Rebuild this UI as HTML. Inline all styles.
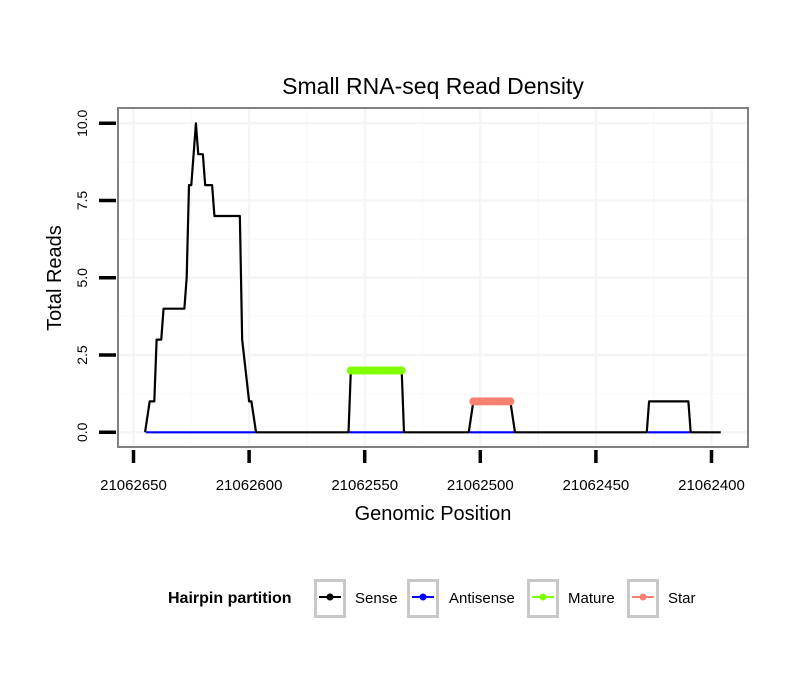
<!DOCTYPE html>
<html><head><meta charset="utf-8"><style>
body{margin:0;background:#fff;}
svg text{font-family:"Liberation Sans",sans-serif;}
</style></head><body>
<svg id="chart" width="810" height="690" xmlns="http://www.w3.org/2000/svg">
<rect width="810" height="690" fill="#fff"/>
<text x="433" y="94" font-size="23" text-anchor="middle">Small RNA-seq Read Density</text>
<g id="grid"></g>
<g id="series"></g>
<rect x="118" y="108" width="630" height="339" fill="none" stroke="#808080" stroke-width="2"/>
<g id="axes"></g>
<text x="433" y="520" font-size="20" text-anchor="middle">Genomic Position</text>
<text transform="translate(61,278) rotate(-90)" font-size="20" text-anchor="middle">Total Reads</text>
<g id="legend">
<text x="168" y="603" font-size="16" font-weight="bold">Hairpin partition</text>
</g>
</svg>
<script>
const xTicks=[21062650,21062600,21062550,21062500,21062450,21062400];
const yTicks=[0,2.5,5,7.5,10];
const yTickLabels=["0.0","2.5","5.0","7.5","10.0"];
const sensePos=[21062645,21062643,21062641,21062640,21062638,21062637,21062628,21062627,21062626,21062625,21062623,21062622,21062620,21062619,21062616,21062615,21062604,21062603,21062600,21062599,21062597,21062557,21062556,21062534,21062533,21062505,21062503,21062487,21062485,21062428,21062427,21062410,21062409,21062396];
const senseVal=[0,1,1,3,3,4,4,5,8,8,10,9,9,8,8,7,7,3,1,1,0,0,2,2,0,0,1,1,0,0,1,1,0,0];
const antisenseStart=[21062645,21062557,21062505,21062428];
const antisenseEnd=[21062597,21062533,21062485,21062409];
const maturePos=[];for(let p=21062556;p>=21062534;p--)maturePos.push(p);
const matureVal=maturePos.map(()=>2);
const starPos=[];for(let p=21062503;p>=21062487;p--)starPos.push(p);
const starVal=starPos.map(()=>1);
const NS="http://www.w3.org/2000/svg";
const X=p=>133.5+(21062650-p)*(578/250);
const Y=v=>432.3-v*(309/10);
function mk(tag,attrs,parent){const e=document.createElementNS(NS,tag);for(const k in attrs)e.setAttribute(k,attrs[k]);parent.appendChild(e);return e;}
const grid=document.getElementById('grid'),series=document.getElementById('series'),axes=document.getElementById('axes'),legend=document.getElementById('legend');
for(let i=0;i<xTicks.length-1;i++){const m=(xTicks[i]+xTicks[i+1])/2;const l=mk('line',{x1:X(m),x2:X(m),y1:108,y2:447,stroke:'#fafafa','stroke-width':1.5},grid);}
for(let i=0;i<yTicks.length-1;i++){const m=(yTicks[i]+yTicks[i+1])/2;const l=mk('line',{x1:118,x2:748,y1:Y(m),y2:Y(m),stroke:'#fafafa','stroke-width':1.5},grid);}
xTicks.forEach(t=>{const l=mk('line',{x1:X(t),x2:X(t),y1:108,y2:447,stroke:'#f5f5f5','stroke-width':2.5},grid);
const tk=mk('line',{x1:X(t),x2:X(t),y1:450,y2:463,stroke:'#000','stroke-width':3.5},axes);
const tx=mk('text',{x:X(t),y:490,'font-size':15,'text-anchor':'middle'},axes);tx.textContent=t;});
yTicks.forEach((t,i)=>{const l=mk('line',{x1:118,x2:748,y1:Y(t),y2:Y(t),stroke:'#f5f5f5','stroke-width':2.5},grid);
const tk=mk('line',{x1:99,x2:116,y1:Y(t),y2:Y(t),stroke:'#000','stroke-width':3.5},axes);
const tx=mk('text',{transform:`translate(87,${Y(t)}) rotate(-90)`,'font-size':14,'text-anchor':'middle'},axes);tx.textContent=yTickLabels[i];});
const sl=mk('polyline',{points:sensePos.map((p,i)=>X(p)+','+Y(senseVal[i])).join(' '),fill:'none',stroke:'#000','stroke-width':2.2,'stroke-linejoin':'round'},series);

antisenseStart.forEach((s,i)=>{const l=mk('line',{x1:X(s)+1,x2:X(antisenseEnd[i])-1,y1:Y(0),y2:Y(0),stroke:'#0000ff','stroke-width':2.2},series);});
function dots(pos,val,col,name){const l=mk('polyline',{points:pos.map((p,i)=>X(p)+','+Y(val[i])).join(' '),fill:'none',stroke:col,'stroke-width':2},series);
pos.forEach((p,i)=>{const c=mk('circle',{cx:X(p),cy:Y(val[i]),r:4,fill:col},series);});}
dots(maturePos,matureVal,'#7fff00','mature');
dots(starPos,starVal,'#fa8072','star');
const keys=[["Sense","#000",314,355],["Antisense","#0000ff",407,449],["Mature","#7fff00",527,568],["Star","#fa8072",627,668]];
keys.forEach(k=>{const g=mk('g',{},legend);
mk('rect',{x:k[2]+1.5,y:580.5,width:29,height:36,fill:'#fff',stroke:'#c8c8c8','stroke-width':3},g);
mk('line',{x1:k[2]+5,x2:k[2]+27,y1:597,y2:597,stroke:k[1],'stroke-width':2},g);
mk('circle',{cx:k[2]+16,cy:597,r:3.5,fill:k[1]},g);
const t=mk('text',{x:k[3],y:603,'font-size':15},g);t.textContent=k[0];});
</script>
</body></html>
